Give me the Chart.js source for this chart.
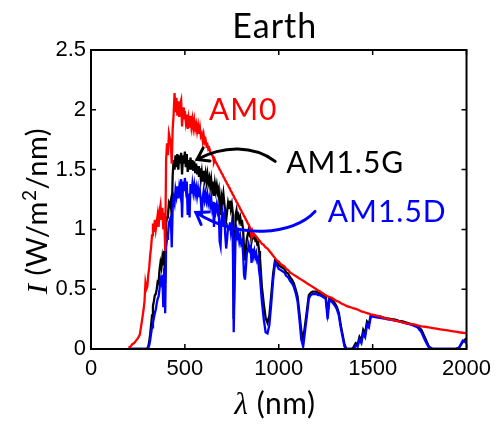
<!DOCTYPE html>
<html>
<head>
<meta charset="utf-8">
<script src="https://cdn.jsdelivr.net/npm/chart.js@4.4.1/dist/chart.umd.min.js"></script>
<style>
  html, body { margin: 0; padding: 0; background: #ffffff; }
  #wrap { width: 498px; height: 429px; }
</style>
</head>
<body>
<div id="wrap"><canvas id="spectrum" width="498" height="429"></canvas></div>
<script>
// Wavelength grid (nm): coarse in the deep UV, 5 nm through the visible, coarser in the IR
const wavelengthNm = [
  200, 210, 220, 230, 240, 250, 260, 270, 280,
  285, 290, 295, 300, 305, 310, 315, 320, 325, 330,
  335, 340, 345, 350, 355, 360, 365, 370, 375, 380,
  385, 390, 395, 400, 405, 410, 415, 420, 425, 430,
  435, 440, 445, 450, 455, 460, 465, 470, 475, 480,
  485, 490, 495, 500, 505, 510, 515, 520, 525, 530,
  535, 540, 545, 550, 555, 560, 565, 570, 575, 580,
  585, 590, 595, 600, 605, 610, 615, 620, 625, 630,
  635, 640, 645, 650, 655, 660, 665, 670, 675, 680,
  685, 690, 695, 700, 705, 710, 715, 720, 725, 730,
  735, 740, 745, 750, 755, 760, 765, 770, 775, 780,
  785, 790, 795, 800, 805, 810, 815, 820, 825, 830,
  835, 840, 845, 850, 855, 860, 865, 870, 875, 880,
  885, 890, 895, 900,
  910, 920, 930, 940, 950, 960, 970, 980, 990, 1000,
  1010, 1020, 1030, 1040, 1050, 1060, 1070, 1080, 1090, 1100,
  1110, 1120, 1130, 1140, 1150, 1160, 1170, 1180, 1190, 1200,
  1210, 1220, 1230, 1240, 1250, 1260, 1270, 1280, 1290, 1300,
  1310, 1320, 1330, 1340, 1350, 1360, 1370, 1380, 1390, 1400,
  1410, 1420, 1430, 1440, 1450, 1460, 1470, 1480, 1490, 1500,
  1520, 1540, 1560, 1580, 1600, 1620, 1640, 1660, 1680, 1700,
  1720, 1740, 1760, 1780, 1800, 1820, 1840, 1860, 1880, 1900,
  1920, 1940, 1960, 1980, 2000
];

// Extraterrestrial spectrum, AM0 (W/m^2/nm)
const amZero = [
  0.01, 0.02, 0.04, 0.05, 0.07, 0.09, 0.12, 0.22, 0.33,
  0.40, 0.55, 0.50, 0.52, 0.62, 0.68, 0.78, 0.85, 0.95, 1.05,
  0.98, 1.08, 1.00, 1.06, 1.12, 1.02, 1.15, 1.20, 1.08, 1.18,
  1.00, 1.14, 0.82, 1.58, 1.72, 1.62, 1.80, 1.76, 1.72, 1.55,
  1.84, 1.96, 2.14, 1.98, 2.10, 1.95, 2.07, 1.94, 2.05, 2.08,
  1.86, 2.02, 1.92, 1.99, 1.90, 1.96, 1.84, 1.92, 1.85, 1.95,
  1.86, 1.92, 1.85, 1.91, 1.84, 1.88, 1.82, 1.87, 1.80, 1.85,
  1.78, 1.80, 1.74, 1.79, 1.73, 1.75, 1.70, 1.71, 1.67, 1.68,
  1.65, 1.64, 1.62, 1.61, 1.56, 1.58, 1.56, 1.55, 1.53, 1.52,
  1.50, 1.49, 1.47, 1.46, 1.44, 1.43, 1.41, 1.40, 1.38, 1.37,
  1.35, 1.34, 1.32, 1.31, 1.29, 1.28, 1.26, 1.25, 1.23, 1.22,
  1.20, 1.19, 1.17, 1.16, 1.14, 1.13, 1.11, 1.10, 1.08, 1.07,
  1.05, 1.04, 1.02, 1.00, 0.94, 0.98, 0.95, 0.96, 0.95, 0.94,
  0.93, 0.92, 0.91, 0.90,
  0.88, 0.87, 0.85, 0.84, 0.82, 0.80, 0.78, 0.76, 0.74, 0.73,
  0.71, 0.70, 0.69, 0.67, 0.66, 0.64, 0.63, 0.62, 0.61, 0.60,
  0.59, 0.58, 0.57, 0.56, 0.55, 0.54, 0.53, 0.52, 0.51, 0.50,
  0.49, 0.48, 0.47, 0.46, 0.45, 0.44, 0.435, 0.43, 0.42, 0.41,
  0.40, 0.395, 0.385, 0.375, 0.37, 0.36, 0.355, 0.35, 0.345, 0.34,
  0.335, 0.33, 0.322, 0.315, 0.31, 0.305, 0.30, 0.295, 0.29, 0.287,
  0.28, 0.272, 0.26, 0.252, 0.245, 0.237, 0.23, 0.222, 0.215, 0.21,
  0.205, 0.197, 0.19, 0.186, 0.18, 0.175, 0.17, 0.165, 0.16, 0.155,
  0.15, 0.145, 0.14, 0.136, 0.13
];

// Global tilt spectrum, AM1.5G (W/m^2/nm)
const amGlobal = [
  0, 0, 0, 0, 0, 0, 0, 0, 0,
  0, 0, 0, 0.005, 0.02, 0.06, 0.12, 0.20, 0.28, 0.36,
  0.40, 0.45, 0.46, 0.50, 0.56, 0.55, 0.66, 0.72, 0.68, 0.76,
  0.70, 0.82, 0.55, 1.05, 1.10, 1.12, 1.22, 1.20, 1.24, 1.10,
  1.45, 1.58, 1.50, 1.62, 1.52, 1.63, 1.50, 1.62, 1.55, 1.64,
  1.46, 1.62, 1.55, 1.65, 1.52, 1.63, 1.48, 1.58, 1.50, 1.60,
  1.50, 1.58, 1.49, 1.57, 1.47, 1.55, 1.46, 1.53, 1.44, 1.51,
  1.42, 1.48, 1.40, 1.49, 1.42, 1.47, 1.40, 1.46, 1.39, 1.43,
  1.36, 1.42, 1.34, 1.40, 1.28, 1.38, 1.32, 1.37, 1.31, 1.34,
  1.20, 1.12, 1.28, 1.24, 1.30, 1.22, 1.14, 1.08, 1.15, 1.22,
  1.18, 1.24, 1.17, 1.21, 1.14, 0.25, 0.78, 1.12, 1.16, 1.10,
  1.12, 1.07, 1.10, 1.05, 1.06, 1.00, 0.84, 0.74, 0.84, 0.92,
  0.96, 1.00, 0.96, 0.98, 0.90, 0.95, 0.93, 0.94, 0.91, 0.92,
  0.88, 0.89, 0.82, 0.76,
  0.52, 0.38, 0.26, 0.22, 0.28, 0.45, 0.63, 0.74, 0.73, 0.70,
  0.69, 0.68, 0.67, 0.64, 0.63, 0.60, 0.58, 0.55, 0.50, 0.44,
  0.30, 0.15, 0.08, 0.20, 0.32, 0.45, 0.47, 0.48, 0.48, 0.48,
  0.47, 0.47, 0.46, 0.45, 0.44, 0.30, 0.43, 0.42, 0.40, 0.38,
  0.35, 0.30, 0.20, 0.12, 0.04, 0, 0, 0, 0, 0.02,
  0.05, 0.04, 0.10, 0.07, 0.16, 0.13, 0.23, 0.21, 0.28, 0.28,
  0.275, 0.27, 0.262, 0.255, 0.25, 0.245, 0.235, 0.23, 0.22, 0.21,
  0.20, 0.19, 0.16, 0.09, 0.02, 0, 0, 0, 0, 0,
  0, 0, 0.01, 0.06, 0.09
];

// Direct + circumsolar spectrum, AM1.5D (W/m^2/nm)
const amDirect = [
  0, 0, 0, 0, 0, 0, 0, 0, 0,
  0, 0, 0, 0, 0.01, 0.03, 0.07, 0.13, 0.18, 0.22,
  0.26, 0.30, 0.33, 0.38, 0.42, 0.44, 0.50, 0.58, 0.55, 0.62,
  0.35, 0.68, 0.30, 0.85, 0.92, 0.95, 1.05, 1.08, 1.10, 0.85,
  1.18, 1.26, 1.22, 1.33, 1.28, 1.36, 1.26, 1.35, 1.30, 1.42,
  1.10, 1.40, 1.32, 1.43, 1.34, 1.40, 1.12, 1.30, 1.10, 1.38,
  1.30, 1.38, 1.31, 1.37, 1.30, 1.35, 1.28, 1.34, 1.27, 1.32,
  1.24, 1.12, 1.26, 1.32, 1.25, 1.30, 1.24, 1.29, 1.22, 1.26,
  1.20, 1.26, 1.18, 1.23, 1.02, 1.22, 1.16, 1.21, 1.15, 1.18,
  0.90, 0.86, 1.08, 1.14, 1.08, 1.12, 0.95, 0.84, 0.92, 1.02,
  1.00, 1.06, 0.98, 1.04, 0.96, 0.14, 0.55, 0.96, 1.00, 0.94,
  0.97, 0.90, 0.94, 0.88, 0.90, 0.80, 0.62, 0.58, 0.68, 0.80,
  0.82, 0.87, 0.83, 0.85, 0.72, 0.84, 0.78, 0.82, 0.77, 0.80,
  0.74, 0.76, 0.66, 0.60,
  0.40, 0.25, 0.14, 0.13, 0.20, 0.38, 0.58, 0.72, 0.70, 0.67,
  0.66, 0.65, 0.64, 0.61, 0.60, 0.57, 0.55, 0.52, 0.47, 0.40,
  0.25, 0.08, 0.02, 0.15, 0.28, 0.42, 0.45, 0.46, 0.46, 0.46,
  0.45, 0.45, 0.44, 0.43, 0.42, 0.25, 0.41, 0.40, 0.38, 0.36,
  0.33, 0.28, 0.18, 0.10, 0.02, 0, 0, 0, 0, 0,
  0.03, 0.02, 0.08, 0.05, 0.13, 0.10, 0.20, 0.18, 0.27, 0.27,
  0.265, 0.26, 0.255, 0.248, 0.243, 0.237, 0.23, 0.222, 0.215, 0.205,
  0.195, 0.18, 0.14, 0.07, 0.01, 0, 0, 0, 0, 0,
  0, 0, 0.01, 0.07, 0.05
];

const xTicks = [0, 500, 1000, 1500, 2000];
const yTicks = [0, 0.5, 1, 1.5, 2, 2.5];

// Curve labels and the arrows pointing from them, in data units (nm, W/m^2/nm)
const curveLabels = [
  { text: 'AM0',    color: '#ff0000', at: [628, 1.915] },
  { text: 'AM1.5G', color: '#000000', at: [1040, 1.472] },
  { text: 'AM1.5D', color: '#0000ff', at: [1261, 1.062] }
];
const curveArrows = [
  { color: '#000000', path: [[981, 1.569], [865, 1.703], [707, 1.703], [565, 1.585]] },
  { color: '#0000ff', path: [[1193, 1.150], [1076, 0.949], [786, 0.915], [559, 1.141]] }
];

const SANS = 'Lato, "Open Sans", sans-serif';
const TICK_FONT = '"Liberation Sans", Arial, sans-serif';

function toPoints(values) {
  return wavelengthNm.map((w, i) => ({ x: w, y: values[i] }));
}

function drawRun(ctx, parts, x, y) {
  // draws a sequence of differently styled text pieces starting at x on baseline y
  let cx = x;
  parts.forEach(p => {
    ctx.font = p.font;
    ctx.fillText(p.text, cx, y + (p.dy || 0));
    cx += ctx.measureText(p.text).width;
  });
  return cx - x;
}
function runWidth(ctx, parts) {
  let w = 0;
  parts.forEach(p => { ctx.font = p.font; w += ctx.measureText(p.text).width; });
  return w;
}

const decorations = {
  id: 'decorations',
  afterDatasetsDraw(chart) {
    const { ctx, chartArea: a, scales: { x, y } } = chart;
    ctx.save();

    // axes box
    ctx.strokeStyle = '#000';
    ctx.lineWidth = 2;
    ctx.strokeRect(a.left, a.top, a.right - a.left, a.bottom - a.top);

    // inward tick marks on all four sides
    ctx.lineWidth = 1.5;
    const tl = 5;
    ctx.beginPath();
    xTicks.forEach(v => {
      const px = x.getPixelForValue(v);
      ctx.moveTo(px, a.bottom); ctx.lineTo(px, a.bottom - tl);
      ctx.moveTo(px, a.top); ctx.lineTo(px, a.top + tl);
    });
    yTicks.forEach(v => {
      const py = y.getPixelForValue(v);
      ctx.moveTo(a.left, py); ctx.lineTo(a.left + tl, py);
      ctx.moveTo(a.right, py); ctx.lineTo(a.right - tl, py);
    });
    ctx.stroke();

    // arrows from the labels to the curves
    curveArrows.forEach(ar => {
      const p = ar.path.map(([wx, wy]) => [x.getPixelForValue(wx), y.getPixelForValue(wy)]);
      ctx.strokeStyle = ar.color;
      ctx.lineWidth = 3;
      ctx.lineCap = 'round';
      ctx.beginPath();
      ctx.moveTo(p[0][0], p[0][1]);
      ctx.bezierCurveTo(p[1][0], p[1][1], p[2][0], p[2][1], p[3][0], p[3][1]);
      ctx.stroke();
      const ang = Math.atan2(p[3][1] - p[2][1], p[3][0] - p[2][0]);
      const hl = 13, spread = 0.6;
      ctx.beginPath();
      ctx.moveTo(p[3][0] - hl * Math.cos(ang - spread), p[3][1] - hl * Math.sin(ang - spread));
      ctx.lineTo(p[3][0], p[3][1]);
      ctx.lineTo(p[3][0] - hl * Math.cos(ang + spread), p[3][1] - hl * Math.sin(ang + spread));
      ctx.stroke();
    });

    // curve labels
    ctx.textBaseline = 'alphabetic';
    ctx.textAlign = 'left';
    ctx.letterSpacing = '1px';
    ctx.font = '30px ' + SANS;
    curveLabels.forEach(l => {
      ctx.fillStyle = l.color;
      ctx.fillText(l.text, x.getPixelForValue(l.at[0]), y.getPixelForValue(l.at[1]));
    });

    // title
    ctx.fillStyle = '#000';
    ctx.textAlign = 'center';
    ctx.font = '34px ' + SANS;
    ctx.fillText('Earth', (a.left + a.right) / 2 - 4, 38);

    // x-axis title
    ctx.textAlign = 'left';
    ctx.letterSpacing = '0.5px';
    const xParts = [
      { text: 'λ', font: 'italic 31px "Liberation Serif", serif' },
      { text: ' (nm)', font: '30px ' + SANS }
    ];
    const xw = runWidth(ctx, xParts);
    drawRun(ctx, xParts, 275 - xw / 2, 414);

    // y-axis title (rotated)
    const yParts = [
      { text: 'I', font: 'italic 30px "Liberation Serif", serif' },
      { text: ' (W/m', font: '29px ' + SANS },
      { text: '2', font: '19px ' + SANS, dy: -11 },
      { text: '/nm)', font: '29px ' + SANS }
    ];
    const yw = runWidth(ctx, yParts);
    ctx.translate(47, 211);
    ctx.rotate(-Math.PI / 2);
    drawRun(ctx, yParts, -yw / 2, 0);

    ctx.restore();
  }
};

new Chart(document.getElementById('spectrum'), {
  type: 'line',
  data: {
    datasets: [
      { label: 'AM0', data: toPoints(amZero), borderColor: '#ff0000' },
      { label: 'AM1.5D', data: toPoints(amDirect), borderColor: '#0000ff' },
      { label: 'AM1.5G', data: toPoints(amGlobal), borderColor: '#000000' }
    ]
  },
  options: {
    responsive: false,
    animation: false,
    elements: {
      line: { borderWidth: 2.3, tension: 0, fill: false, borderJoinStyle: 'miter' },
      point: { radius: 0, hoverRadius: 0 }
    },
    layout: { padding: { left: 0, right: 28, top: 50, bottom: 0 } },
    plugins: { legend: { display: false }, tooltip: { enabled: false }, title: { display: false } },
    scales: {
      x: {
        type: 'linear', min: 0, max: 2000,
        afterFit: s => { s.height = 80; },
        afterBuildTicks: s => { s.ticks = xTicks.map(v => ({ value: v })); },
        grid: { display: false, drawTicks: false },
        border: { display: false },
        ticks: {
          color: '#000', padding: 7, maxRotation: 0,
          font: { family: TICK_FONT, size: 22 },
          callback: v => String(v)
        }
      },
      y: {
        type: 'linear', min: 0, max: 2.5,
        afterFit: s => { s.width = 91; },
        afterBuildTicks: s => { s.ticks = yTicks.map(v => ({ value: v })); },
        grid: { display: false, drawTicks: false },
        border: { display: false },
        ticks: {
          color: '#000', padding: 5,
          font: { family: TICK_FONT, size: 22 },
          callback: v => String(v)
        }
      }
    }
  },
  plugins: [decorations]
});
</script>
</body>
</html>
